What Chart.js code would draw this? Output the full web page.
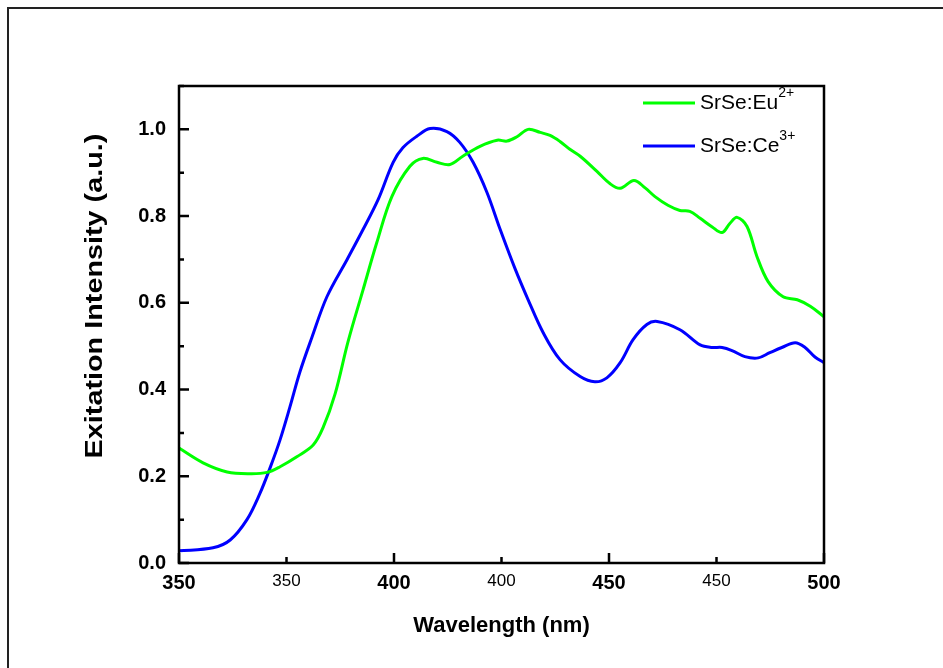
<!DOCTYPE html>
<html>
<head>
<meta charset="utf-8">
<script src="https://cdn.jsdelivr.net/npm/chart.js@4"></script>
<style>
  html, body { margin: 0; padding: 0; background: #fff; }
  #wrap { width: 943px; height: 668px; position: relative; }
</style>
</head>
<body>
<div id="wrap"><canvas id="c" width="943" height="668"></canvas></div>
<script>
// ---- Data ----
const xTickValues = [350, 375, 400, 425, 450, 475, 500];
const xTickLabels = ['350', '350', '400', '400', '450', '450', '500'];

const seriesNames   = ['SrSe:Eu', 'SrSe:Ce'];
const seriesCharges = ['2+', '3+'];
const seriesColors  = ['#00ff00', '#0000ff'];

const euWavelength = [350.0,355.6,361.2,366.5,370.5,373.5,377.4,381.2,383.5,386.3,389.3,392.8,396.0,399.5,403.7,406.7,410.0,413.0,416.0,420.0,424.0,426.3,428.6,431.2,434.0,436.3,438.6,440.9,443.3,447.2,450.2,452.6,455.8,458.4,460.7,463.7,466.5,468.8,471.2,474.0,476.3,478.1,479.8,482.1,484.4,487.0,490.5,493.8,496.8,500.0];
const euIntensity  = [0.265,0.231,0.210,0.206,0.209,0.222,0.245,0.272,0.312,0.390,0.510,0.630,0.739,0.845,0.915,0.933,0.924,0.919,0.938,0.961,0.975,0.973,0.983,1.000,0.993,0.986,0.972,0.954,0.938,0.903,0.875,0.864,0.882,0.865,0.845,0.825,0.813,0.811,0.795,0.775,0.762,0.783,0.797,0.776,0.707,0.649,0.614,0.607,0.592,0.568];

const ceWavelength = [350.0,357.9,361.9,365.8,368.8,371.2,373.5,375.8,378.1,380.9,384.4,389.1,392.8,396.3,399.8,402.1,405.3,408.4,412.3,415.3,418.4,421.6,424.7,428.1,431.2,434.7,438.6,443.3,446.7,449.5,452.6,455.6,458.8,461.2,466.5,471.2,474.0,476.3,478.6,481.6,484.7,487.4,490.2,493.3,495.6,497.9,500.0];
const ceIntensity  = [0.028,0.035,0.053,0.100,0.160,0.220,0.284,0.360,0.440,0.520,0.614,0.700,0.769,0.838,0.924,0.958,0.984,1.002,0.995,0.970,0.924,0.855,0.769,0.680,0.607,0.531,0.469,0.430,0.418,0.427,0.462,0.515,0.550,0.557,0.538,0.503,0.497,0.497,0.490,0.476,0.473,0.485,0.497,0.508,0.497,0.475,0.462];

const xTitle = 'Wavelength (nm)';
const yTitle = 'Exitation Intensity (a.u.)';

const FONT = "'Liberation Sans', Arial, Helvetica, sans-serif";

function toPoints(xs, ys) { return xs.map((x, i) => ({ x: x, y: ys[i] })); }

const decor = {
  id: 'decor',
  beforeDraw(chart) {
    const ctx = chart.ctx;
    ctx.save();
    ctx.fillStyle = '#fff';
    ctx.fillRect(0, 0, chart.width, chart.height);
    ctx.strokeStyle = '#222';
    ctx.lineWidth = 2;
    ctx.beginPath();
    ctx.moveTo(8, chart.height);
    ctx.lineTo(8, 8);
    ctx.lineTo(chart.width, 8);
    ctx.stroke();
    ctx.restore();
  },
  afterDatasetsDraw(chart) {
    const ctx = chart.ctx;
    const a = chart.chartArea;
    const xs = chart.scales.x, ys = chart.scales.y;
    ctx.save();
    ctx.strokeStyle = '#000';
    ctx.lineWidth = 2.5;
    ctx.strokeRect(a.left, a.top, a.right - a.left, a.bottom - a.top);
    ctx.beginPath();
    ys.ticks.forEach((t, i) => {
      const p = ys.getPixelForValue(t.value);
      const len = i % 2 === 0 ? 10 : 5;
      ctx.moveTo(a.left, p); ctx.lineTo(a.left + len, p);
    });
    xs.ticks.forEach((t, i) => {
      const p = xs.getPixelForValue(t.value);
      const len = i % 2 === 0 ? 10 : 6;
      ctx.moveTo(p, a.bottom); ctx.lineTo(p, a.bottom - len);
    });
    ctx.stroke();

    // y axis title (slightly stretched along its length, as in the reference)
    ctx.save();
    ctx.translate(95, 296);
    ctx.rotate(-Math.PI / 2);
    ctx.scale(1.2, 1);
    ctx.fillStyle = '#000';
    ctx.textAlign = 'center';
    ctx.textBaseline = 'middle';
    ctx.font = 'bold 24px ' + FONT;
    ctx.fillText(yTitle, 0, 0);
    ctx.restore();

    // legend
    const lx0 = a.right - 181, lx1 = a.right - 129, tx = a.right - 124;
    chart.data.datasets.forEach((ds, i) => {
      const yy = a.top + 17 + i * 43;
      ctx.strokeStyle = seriesColors[i];
      ctx.lineWidth = 3;
      ctx.beginPath(); ctx.moveTo(lx0, yy); ctx.lineTo(lx1, yy); ctx.stroke();
      ctx.fillStyle = '#000';
      ctx.textBaseline = 'middle';
      ctx.textAlign = 'left';
      ctx.font = '21px ' + FONT;
      ctx.fillText(seriesNames[i], tx, yy);
      const w = ctx.measureText(seriesNames[i]).width;
      ctx.font = '14px ' + FONT;
      ctx.fillText(seriesCharges[i], tx + w, yy - 10);
    });
    ctx.restore();
  }
};

new Chart(document.getElementById('c'), {
  type: 'line',
  data: {
    datasets: [
      { label: seriesNames[0] + '2+', data: toPoints(euWavelength, euIntensity), borderColor: seriesColors[0], borderWidth: 3, pointRadius: 0, tension: 0.35, fill: false },
      { label: seriesNames[1] + '3+', data: toPoints(ceWavelength, ceIntensity), borderColor: seriesColors[1], borderWidth: 3, pointRadius: 0, tension: 0.35, fill: false }
    ]
  },
  options: {
    responsive: false,
    animation: false,
    devicePixelRatio: 1,
    layout: { padding: { left: 0, right: 119, top: 86, bottom: 0 } },
    plugins: { legend: { display: false }, tooltip: { enabled: false } },
    scales: {
      x: {
        type: 'linear', min: 350, max: 500,
        afterBuildTicks(scale) { scale.ticks = xTickValues.map(v => ({ value: v })); },
        afterFit(scale) { scale.height = 105; },
        grid: { display: false, drawTicks: false },
        border: { display: false },
        ticks: {
          color: '#000', padding: 8, maxRotation: 0, autoSkip: false,
          font: (c) => ({ family: FONT, size: c.index % 2 === 0 ? 20 : 17, weight: c.index % 2 === 0 ? 'bold' : 'normal' }),
          callback: (v, i) => xTickLabels[i]
        },
        title: { display: true, text: xTitle, color: '#000', font: { family: FONT, size: 22, weight: 'bold' }, padding: { top: 0, bottom: 29 } }
      },
      y: {
        min: 0, max: 1.1,
        afterBuildTicks(scale) {
          const t = []; for (let i = 0; i <= 11; i++) t.push({ value: i / 10 }); scale.ticks = t;
        },
        afterFit(scale) { scale.width = 179; },
        grid: { display: false, drawTicks: false },
        border: { display: false },
        ticks: {
          color: '#000', padding: 13, autoSkip: false,
          font: { family: FONT, size: 20, weight: 'bold' },
          callback: (v, i) => (i % 2 === 0 && i < 11) ? (i / 10).toFixed(1) : ''
        },
        title: { display: false, text: yTitle }
      }
    }
  },
  plugins: [decor]
});
</script>
</body>
</html>
